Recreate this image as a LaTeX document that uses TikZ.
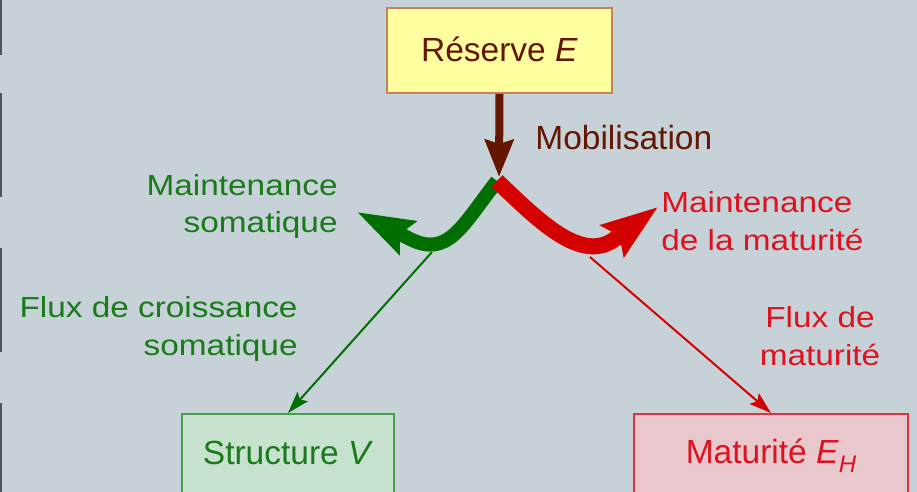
\documentclass[tikz,border=0pt]{standalone}
\usepackage{fontspec}
\setmainfont{Liberation Sans}
\newfontfamily\lblfont[FakeStretch=1.15]{Liberation Sans}
\usetikzlibrary{arrows.meta}

\definecolor{bg}{RGB}{199,210,216}
\definecolor{edgegray}{RGB}{80,84,90}
\definecolor{brownink}{RGB}{100,22,0}
\definecolor{resfill}{RGB}{255,255,160}
\definecolor{resline}{RGB}{200,130,90}
\definecolor{greenink}{RGB}{25,122,25}
\definecolor{greenfill}{RGB}{200,226,208}
\definecolor{greenline}{RGB}{70,160,70}
\definecolor{greenflow}{RGB}{0,110,0}
\definecolor{redink}{RGB}{222,18,30}
\definecolor{redfill}{RGB}{232,200,205}
\definecolor{redline}{RGB}{222,50,60}
\definecolor{redflow}{RGB}{212,0,0}

\tikzset{
  box/.style={draw, line width=1pt, inner xsep=0pt, inner ysep=0pt, anchor=base,
    font=\fontsize{16.75}{20}\selectfont},
  lbl/.style={inner sep=0pt, font=\lblfont\fontsize{14.5}{18.75}\selectfont},
  mobarrow/.style={draw=brownink, line width=4pt,
    -{Stealth[length=18.5pt,width=14pt,inset=2pt]}},
  gband/.style={draw=greenflow, line width=7pt, line cap=butt,
    -{Stealth[length=28pt,width=18pt,inset=4pt]}},
  rband/.style={draw=redflow, line width=8pt, line cap=butt,
    -{Stealth[length=28pt,width=19pt,inset=4pt]}},
  gthin/.style={draw=greenflow, line width=1pt,
    -{Stealth[length=11pt,width=7pt,inset=2pt]}},
  rthin/.style={draw=redflow, line width=1pt,
    -{Stealth[length=11pt,width=7pt,inset=2pt]}},
}

\begin{document}
\begin{tikzpicture}[x=0.5pt,y=-0.5pt]
\useasboundingbox (0,0) rectangle (917,492);
\clip (0,0) rectangle (917,492);
\fill[bg] (0,0) rectangle (917,492);

% broken rule along the left edge
\foreach \a/\b in {0/55,93/197,248/352,403/492}
  \fill[edgegray] (0,\a) rectangle (1.6,\b);

% compartments
\node[box, fill=resfill, draw=resline, text=brownink,
      minimum width=112.5pt, text height=27pt, text depth=15.5pt]
      (re) at (499.5,62) {Réserve \textit{E}};
\node[box, fill=greenfill, draw=greenline, text=greenink,
      minimum width=106pt, text height=25pt, text depth=20pt]
      (sv) at (288,464) {Structure \textit{V}};
\node[box, fill=redfill, draw=redline, text=redink,
      minimum width=137pt, text height=24.5pt, text depth=20pt]
      (mh) at (771,463) {Maturité \textit{E}\raisebox{-0.28em}{\fontsize{12}{12}\selectfont\textit{H}}};

% labels
\node[inner sep=0pt, anchor=base west, text=brownink,
      font=\fontsize{16.75}{20}\selectfont] (mob) at (535,150) {Mobilisation};
\node[lbl, text=greenink, align=right, anchor=east] (ms) at (338,206.5)
      {Maintenance\\somatique};
\node[lbl, text=redink, align=left, anchor=west] (mm) at (661,221)
      {Maintenance\\de la maturité};
\node[lbl, text=greenink, align=right, anchor=east] (fc) at (298,329)
      {Flux de croissance\\somatique};
\node[lbl, text=redink, align=center] (fm) at (820,336)
      {Flux de\\maturité};

% junction points on the flows
\coordinate (jn) at (499,177);
\coordinate (gs) at (497,181);
\coordinate (gtip) at (357,212);
\coordinate (rtip) at (658,207);
\coordinate (gsplit) at (432,252);
\coordinate (rsplit) at (590,257);

% growth and maturity fluxes
\draw[gthin] (gsplit) -- (sv.north);
\draw[rthin] (rsplit) -- (mh.north);

% maintenance fluxes
\draw[gband] (gs) .. controls (462,226) and (448,258) .. (410,239) -- (gtip);
\draw[rband] (gs) .. controls (538,220) and (581,264) .. (615,239) -- (rtip);

% mobilisation
\draw[mobarrow] (re.south) -- (jn);
\end{tikzpicture}
\end{document}
